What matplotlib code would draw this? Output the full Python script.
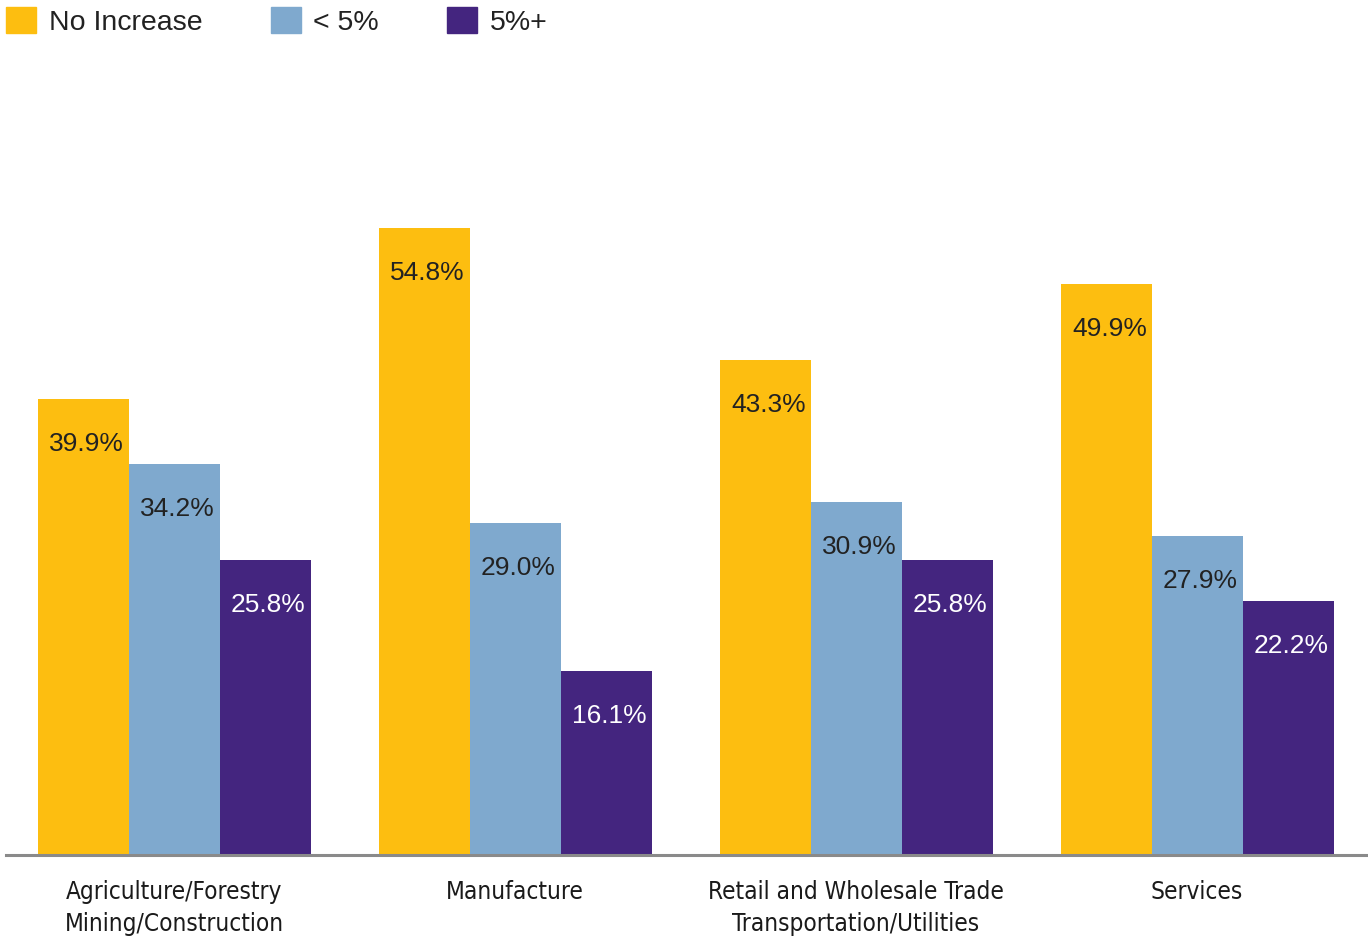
import matplotlib.pyplot as plt
import numpy as np
from matplotlib.patches import Patch
from matplotlib import font_manager

# data
categories = ['Agriculture/Forestry\nMining/Construction', 'Manufacture',
              'Retail and Wholesale Trade\nTransportation/Utilities', 'Services']
series_names = ['No Increase', '< 5%', '5%+']
no_increase = [39.9, 54.8, 43.3, 49.9]
under_5 = [34.2, 29.0, 30.9, 27.9]
five_plus = [25.8, 16.1, 25.8, 22.2]

colors = ['#FDBE10', '#7FA9CE', '#44257F']
label_colors = ['#222222', '#222222', '#FFFFFF']

plt.rcParams['font.family'] = ['Liberation Sans', 'DejaVu Sans']

# look for a condensed face for the category labels
cond = [f for f in font_manager.fontManager.ttflist
        if f.stretch in ('condensed', 'semi-condensed', 'extra-condensed', 550, 600, 700)
        or 'Narrow' in f.name or 'Condensed' in f.name]
if cond:
    tick_font = dict(family=cond[0].name, stretch=cond[0].stretch)
else:
    tick_font = dict(family='Roboto')

fig = plt.figure(figsize=(13.68, 9.43), dpi=100)
ax = fig.add_axes([6 / 1368, 88 / 943, 1 - 6 / 1368, (855 - 168.6) / 943])

x = np.arange(len(categories))
w = 91 / 341
for i, vals in enumerate([no_increase, under_5, five_plus]):
    bars = ax.bar(x + (i - 1) * w, vals, w, color=colors[i], linewidth=0)
    for b, v in zip(bars, vals):
        ax.annotate(f'{v:.1f}%', (b.get_x() + b.get_width() / 2 + 0.01, v),
                    xytext=(0, -32.5), textcoords='offset points',
                    ha='center', va='center', fontsize=19, color=label_colors[i])

ax.set_xlim((6 - 174) / 341, (1368 - 174) / 341)
ax.set_ylim(0, 60)
for s in ['top', 'right', 'left']:
    ax.spines[s].set_visible(False)
ax.spines['bottom'].set_color('#8a8a8a')
ax.spines['bottom'].set_linewidth(2.2)
ax.set_yticks([])
ax.set_xticks(x)
ax.set_xticklabels(categories, fontsize=17.5, color='#1a1a1a',
                   linespacing=1.4, **tick_font)
ax.tick_params(axis='x', length=0, pad=18)

handles = [Patch(color=c) for c in colors]
fig.legend(handles, series_names, loc='upper left', bbox_to_anchor=(6 / 1368, 0.993),
           ncol=3, frameon=False, fontsize=20.5, handlelength=1.05, handleheight=1.05,
           handletextpad=0.45, columnspacing=2.4, borderaxespad=0, borderpad=0,
           labelcolor='#222222')

fig.savefig('out.png', dpi=100)
